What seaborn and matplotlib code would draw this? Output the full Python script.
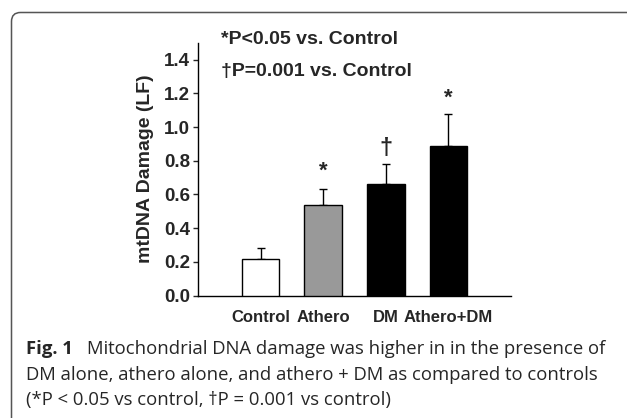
import numpy as np
import pandas as pd
import matplotlib
matplotlib.use("Agg")
import matplotlib.pyplot as plt
from matplotlib.patches import FancyBboxPatch
from matplotlib.transforms import IdentityTransform
import seaborn as sns

# Datos
groups = ["Control", "Athero", "DM", "Athero+DM"]
damage = [0.22, 0.54, 0.66, 0.89]
err_up = [0.06, 0.09, 0.12, 0.19]
marks = ["", "*", "†", "*"]
mark_y = [0.0, 0.74, 0.87, 1.17]
bar_colors = ["white", "#999999", "black", "black"]
y_ticks = [0.0, 0.2, 0.4, 0.6, 0.8, 1.0, 1.2, 1.4]

df = pd.DataFrame({"group": groups, "damage": damage})

sns.set_style("ticks")
plt.rcParams["font.family"] = ["Liberation Sans", "DejaVu Sans"]

fig = plt.figure(figsize=(6.27, 4.18), dpi=100)
ax = fig.add_axes([0.3158, 0.2926, 0.4992, 0.6053])

sns.barplot(data=df, x="group", y="damage", hue="group", palette=bar_colors,
            legend=False, width=0.6, edgecolor="black", linewidth=1,
            errorbar=None, ax=ax, zorder=3)
ax.errorbar(x=np.arange(len(groups)), y=damage,
            yerr=[np.zeros(len(groups)), err_up], fmt="none",
            ecolor="black", elinewidth=1, capsize=2.8, capthick=1, zorder=2)

for i, (m, yy) in enumerate(zip(marks, mark_y)):
    if m:
        size = 16 if m == "*" else 17
        ax.text(i, yy, m, ha="center", va="center", fontsize=size,
                fontweight="bold")

ax.text(-0.64, 1.518, "*P<0.05 vs. Control", fontsize=14, fontweight="bold",
        va="center", ha="left", clip_on=False)
ax.text(-0.64, 1.332, "†P=0.001 vs. Control", fontsize=14, fontweight="bold",
        va="center", ha="left", clip_on=False)

ax.set_xlim(-1, 4)
ax.set_ylim(0, 1.5)
ax.set_yticks(y_ticks)
ax.set_yticklabels([f"{t:.1f}" for t in y_ticks], fontsize=13.5, fontweight="bold")
ax.set_xticks(range(len(groups)))
ax.set_xticklabels(groups, fontsize=12, fontweight="bold")
ax.tick_params(axis="y", direction="out", length=3.6, width=1, pad=2)
ax.tick_params(axis="x", length=0, pad=10.5)
ax.set_xlabel("")
ax.set_ylabel("mtDNA Damage (LF)", fontsize=14, fontweight="bold")
ax.yaxis.set_label_coords(-0.14, 0.5)
for s in ["top", "right"]:
    ax.spines[s].set_visible(False)
for s in ["left", "bottom"]:
    ax.spines[s].set_linewidth(1)
    ax.spines[s].set_color("black")

# Marco redondeado
frame = FancyBboxPatch((11.5, -60), 700, 418 - 12.5 + 60,
                       boxstyle="round,pad=0,rounding_size=9",
                       transform=IdentityTransform(), fill=False,
                       edgecolor="#555555", linewidth=1.1)
fig.patches.append(frame)

# Leyenda de la figura
cap_font = ["Open Sans", "DejaVu Sans"]
fig.text(26 / 627, 1 - 349 / 418, "Fig. 1", fontsize=13.3, fontweight="bold",
         family=cap_font, va="center", ha="left")
fig.text(87 / 627, 1 - 349 / 418,
         "Mitochondrial DNA damage was higher in in the presence of",
         fontsize=13.3, family=cap_font, va="center", ha="left")
fig.text(26 / 627, 1 - 375 / 418,
         "DM alone, athero alone, and athero + DM as compared to controls",
         fontsize=13.3, family=cap_font, va="center", ha="left")
fig.text(26 / 627, 1 - 400 / 418,
         "(*P < 0.05 vs control, †P = 0.001 vs control)",
         fontsize=13.3, family=cap_font, va="center", ha="left")

fig.savefig("out.png", dpi=100)
